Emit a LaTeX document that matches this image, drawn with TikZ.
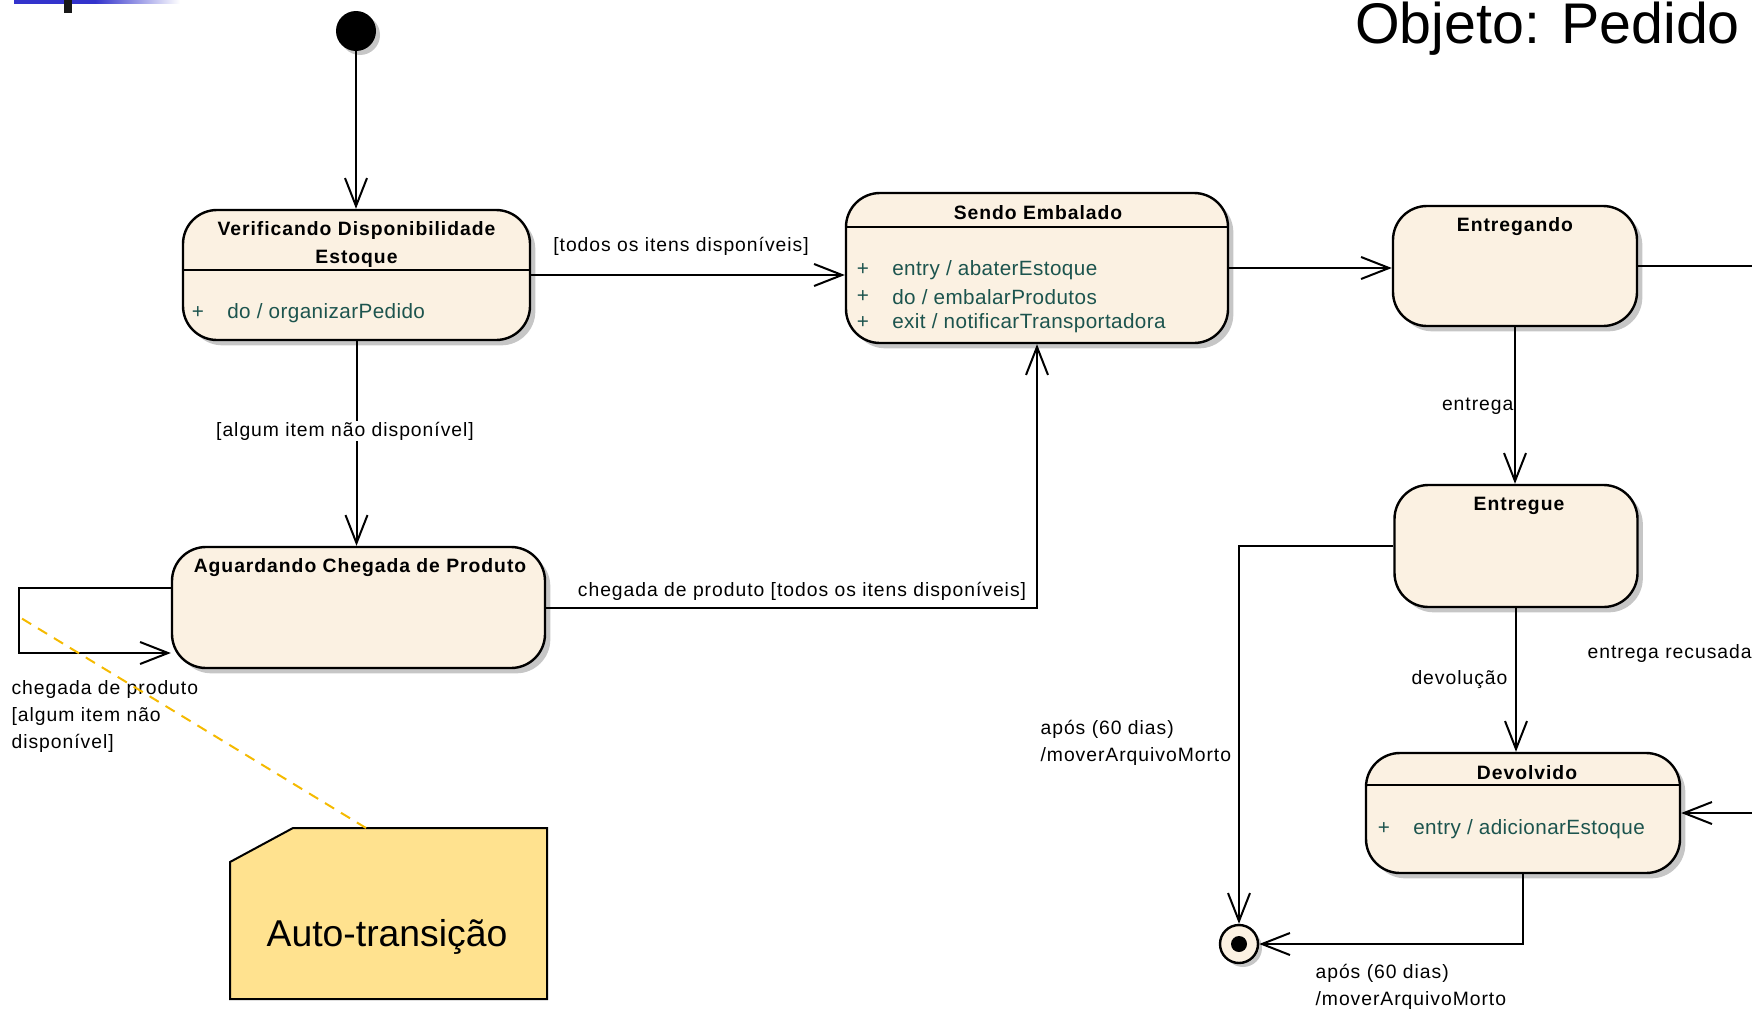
\documentclass[tikz,border=0pt]{standalone}
\usepackage{fontspec}
\setmainfont{Liberation Sans}
\newfontfamily\lblfamily[LetterSpace=5]{Liberation Sans}
\newfontfamily\actfamily[LetterSpace=2]{Liberation Sans}
\newfontfamily\ttlfamily[LetterSpace=5]{Liberation Sans}
\usetikzlibrary{arrows.meta,shadows}

\definecolor{statefill}{RGB}{251,241,226}
\definecolor{actgreen}{RGB}{28,84,78}
\definecolor{shadowgray}{RGB}{198,198,198}
\definecolor{notefill}{RGB}{255,226,143}
\definecolor{notelink}{RGB}{245,186,0}
\definecolor{hdrblue}{RGB}{51,51,204}

\begin{document}
\begin{tikzpicture}[x=0.75pt,y=-0.75pt,
  boxsize/.style 2 args={minimum width=#1*0.75pt, minimum height=#2*0.75pt},
  state/.style={rectangle, draw, line width=1.8pt, fill=statefill,
    rounded corners=25.5pt, inner sep=0pt,
    drop shadow={shadow xshift=4pt, shadow yshift=-4pt, fill=shadowgray, opacity=1}},
  tr/.style={line width=1.5pt, -{Straight Barb[length=21pt,width=16.5pt]}},
  plain/.style={line width=1.5pt},
  ttl/.style={font=\ttlfamily\bfseries\fontsize{14.5}{21}\selectfont, inner sep=0pt, align=center},
  act/.style={font=\actfamily\fontsize{15.5}{20}\selectfont, text=actgreen, inner sep=0pt, anchor=west},
  plus/.style={font=\actfamily\fontsize{15.5}{20}\selectfont, text=actgreen, inner sep=0pt},
  lbl/.style={font=\lblfamily\fontsize{14.5}{20.25}\selectfont, inner sep=1pt},
]
\useasboundingbox (0,0) rectangle (1752,1010);
\clip (0,0) rectangle (1752,1010);

% header remnants
\fill[hdrblue] (14,0) rectangle (95,3.5);
\shade[left color=hdrblue, right color=white] (95,0) rectangle (180,3.5);
\fill[black!90] (64,0) rectangle (72,13);

% title
\node[font=\fontsize{43}{50}\selectfont, anchor=base west, inner sep=0pt] (title) at (1355,43) {Objeto: Pedido};

% pseudo states
\node[circle, fill=black, inner sep=0pt, minimum size=30pt,
  drop shadow={shadow xshift=3pt, shadow yshift=-3pt, fill=shadowgray, opacity=1}] (ini) at (356,31) {};
\node[circle, draw, line width=1.8pt, fill=statefill, inner sep=0pt, minimum size=28.5pt,
  drop shadow={shadow xshift=3pt, shadow yshift=-3pt, fill=shadowgray, opacity=1}] (fin) at (1239,944) {};
\fill[black] (fin.center) circle[radius=6pt];

% states
\node[state, boxsize={347}{130}] (ver) at (356.5,275) {};
\node[state, boxsize={382}{150}] (sen) at (1037,268) {};
\node[state, boxsize={244}{120}] (ent) at (1515,266) {};
\node[state, boxsize={243}{122}] (etg) at (1516,546) {};
\node[state, boxsize={314}{120}] (dev) at (1523,813) {};
\node[state, boxsize={373}{121}] (agu) at (358.5,607.5) {};

% compartment dividers
\draw[plain] (ver.west |- 0,270) -- (ver.east |- 0,270);
\draw[plain] (sen.west |- 0,227) -- (sen.east |- 0,227);
\draw[plain] (dev.west |- 0,785) -- (dev.east |- 0,785);

% state names
\node[ttl] (t-ver) at (356.5,244) {Verificando Disponibilidade\\Estoque};
\node[ttl] (t-sen) at (1038,213) {Sendo Embalado};
\node[ttl] (t-ent) at (1515,227) {Entregando};
\node[ttl] (t-etg) at (1519,506) {Entregue};
\node[ttl] (t-dev) at (1527,773) {Devolvido};
\node[ttl] (t-agu) at (360,568) {Aguardando Chegada de Produto};

% internal activities
\node[plus] (p-ver) at (198,313) {+};
\node[act] (a-ver) at (227,313) {do / organizarPedido};
\node[plus] (p-sen1) at (863,270) {+};
\node[act] (a-sen1) at (892,270) {entry / abaterEstoque};
\node[plus] (p-sen2) at (863,297) {+};
\node[act] (a-sen2) at (892,297) {do / embalarProdutos};
\node[plus] (p-sen3) at (863,323) {+};
\node[act] (a-sen3) at (892,323) {exit / notificarTransportadora};
\node[plus] (p-dev) at (1384,829) {+};
\node[act] (a-dev) at (1413,829) {entry / adicionarEstoque};

% transitions
\coordinate (offr) at (1800,266);
\coordinate (loopa) at (19,588);
\coordinate (loopb) at (19,653);
\draw[tr] (ini.south) -- (ini.south |- ver.north);
\draw[tr] (ver.east) -- (ver.east -| sen.west);
\draw[tr] (ver.south) -- (ver.south |- agu.north);
\draw[tr] (agu.east) -| (sen.south);
\draw[tr] (agu.west |- loopa) -- (loopa) -- (loopb) -- (agu.west |- loopb);
\draw[tr] (sen.east) -- (sen.east -| ent.west);
\draw[tr] (ent.south) -- (ent.south |- etg.north);
\draw[tr] (ent.east) -- (offr) |- (dev.east);
\draw[tr] (etg.south) -- (etg.south |- dev.north);
\draw[tr] (etg.west) -| (fin.north);
\draw[tr] (dev.south) |- (fin.east);

% transition labels
\node[lbl] (l-todos) at (681,246) {[todos os itens disponíveis]};
\node[lbl, fill=white] (l-algum) at (345,431) {[algum item não disponível]};
\node[lbl] (l-cheg) at (802,591) {chegada de produto [todos os itens disponíveis]};
\node[lbl, anchor=west, align=left] (l-loop) at (10,716) {chegada de produto\\{}[algum item não\\disponível]};
\node[lbl, anchor=east] (l-entrega) at (1515,406) {entrega};
\node[lbl, anchor=east] (l-devol) at (1509,680) {devolução};
\node[lbl, anchor=west] (l-recus) at (1586,653) {entrega recusada};
\node[lbl, anchor=west, align=left] (l-apos1) at (1039,743) {após (60 dias)\\/moverArquivoMorto};
\node[lbl, anchor=west, align=left] (l-apos2) at (1314,987) {após (60 dias)\\/moverArquivoMorto};

% note attached to the self-transition
\draw[plain, fill=notefill] (230,862) -- (293,828) -- (547,828) -- (547,999) -- (230,999) -- cycle;
\node[font=\fontsize{28}{34}\selectfont, inner sep=0pt, anchor=base] (note-txt) at (387,946) {Auto-transição};
\coordinate (note-top) at (366,828);
\coordinate (loop-pt) at (21,618);
\draw[notelink, line width=1.5pt, dash pattern=on 8pt off 6pt] (note-top) -- (loop-pt);
\end{tikzpicture}
\end{document}
